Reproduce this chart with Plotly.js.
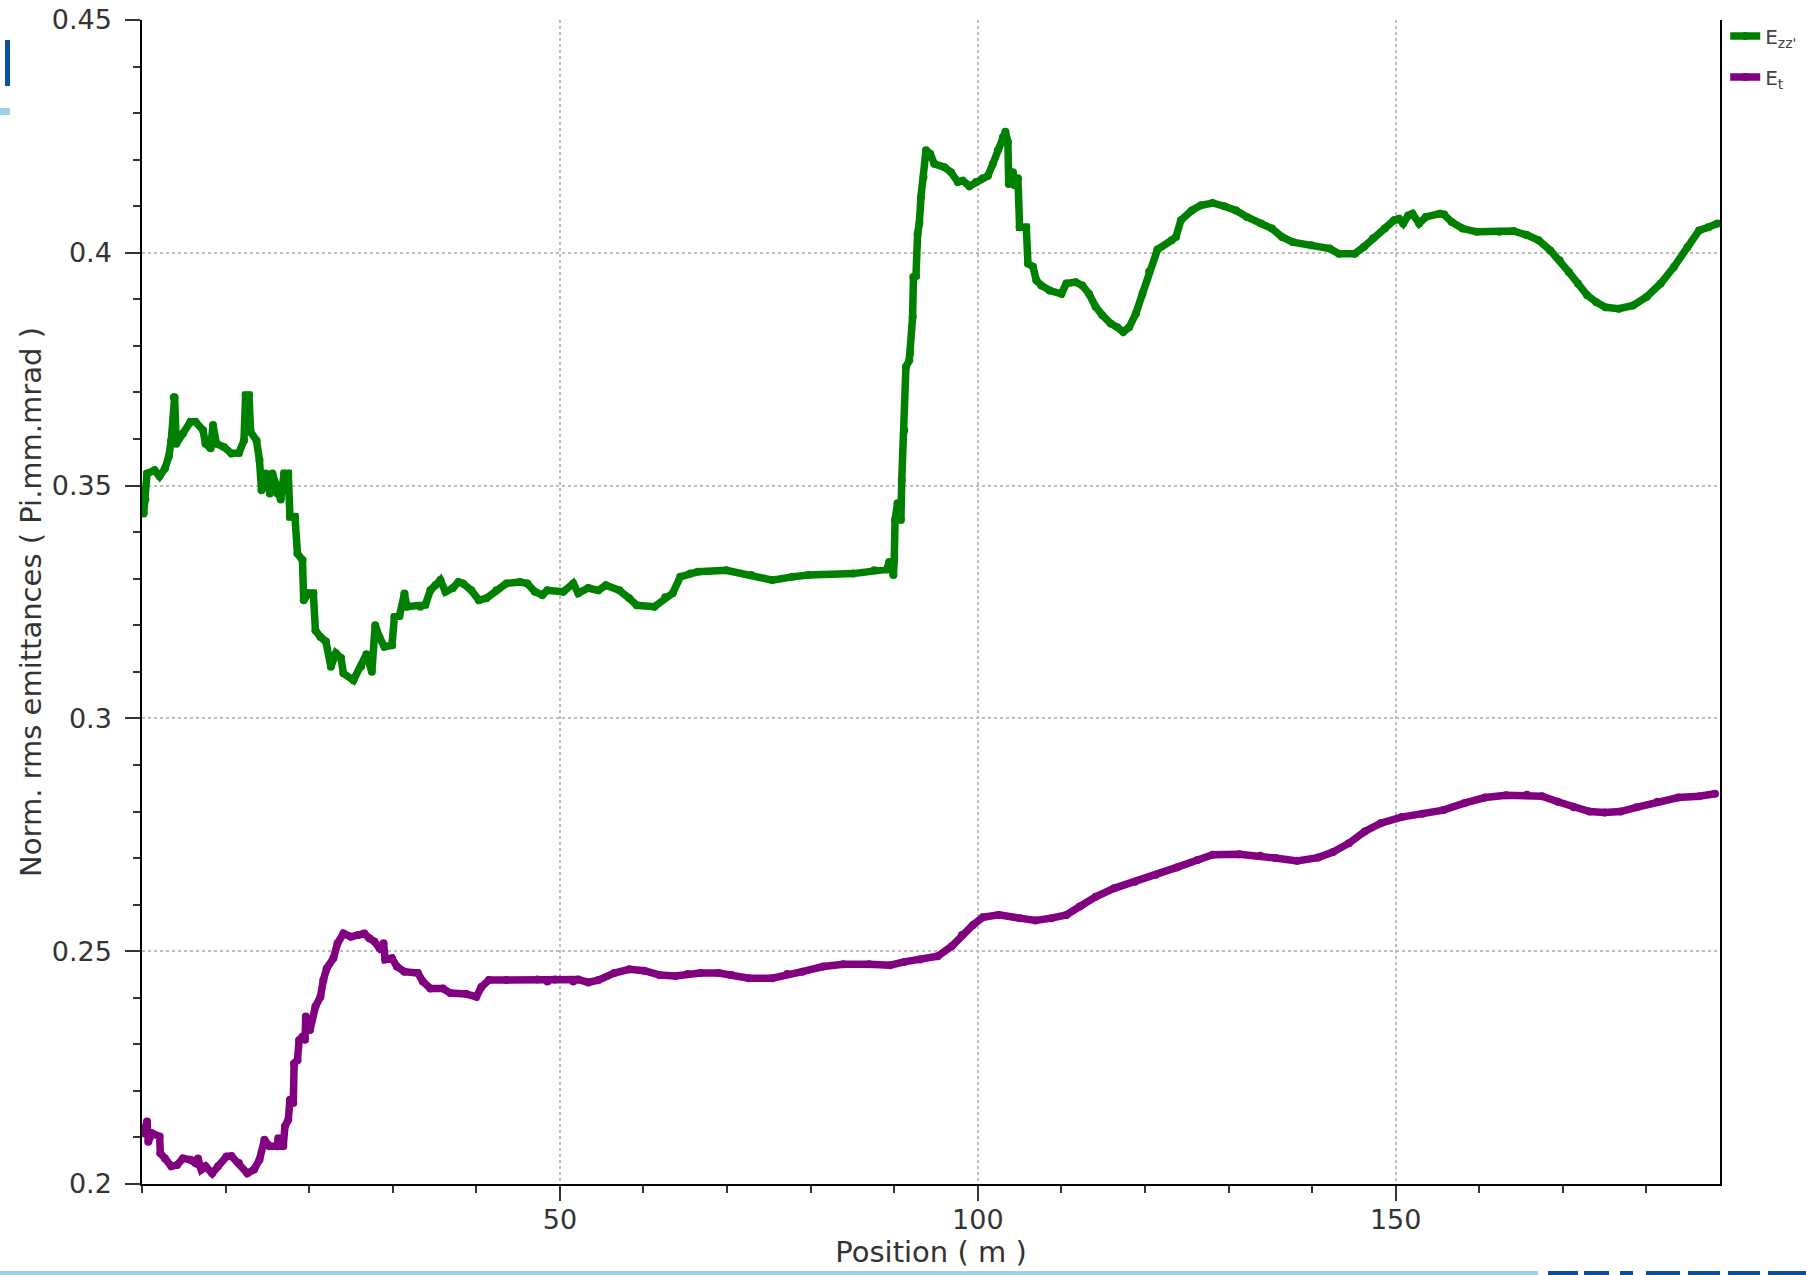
<!DOCTYPE html>
<html>
<head>
<meta charset="utf-8">
<script src="https://cdn.plot.ly/plotly-3.0.1.min.js"></script>
<style>html,body{margin:0;padding:0;background:#fff;}#chart{width:1806px;height:1275px;}</style>
</head>
<body>
<div id="chart"></div>
<script>
// Position (m) and emittance values
var ezzX = [0.2,0.4,0.6,1.5,2.1,2.75,3.2,3.5,3.8,3.9,4.1,4.9,5.8,6.4,7.3,7.6,8.2,8.5,8.9,9.8,10.7,11.6,12.2,12.4,12.8,13.0,13.7,14.05,14.3,14.8,15.3,15.6,16.2,16.6,17.0,17.5,17.7,18.3,18.6,19.2,19.35,19.95,20.5,20.75,21.35,22.0,22.6,23.2,23.8,24.1,25.3,26.2,26.85,27.5,27.9,28.4,29.0,29.9,30.2,30.8,31.4,31.7,33.3,33.9,34.5,35.1,35.7,36.3,37.2,37.85,38.4,39.4,40.3,41.2,42.4,43.6,45.2,46.1,47.0,47.9,48.5,50.4,51.6,52.2,53.4,54.6,55.5,57.1,58.3,59.2,61.3,62.6,63.5,64.4,65.6,66.5,69.9,72.9,75.4,77.8,79.7,85.1,87.6,89.1,89.4,89.9,90.0,90.1,90.4,90.8,90.9,91.2,91.4,91.8,91.9,92.2,92.3,92.6,92.8,93.0,93.2,93.5,93.8,94.3,94.8,96.0,96.8,97.6,98.2,99.0,99.8,100.6,101.2,101.8,102.4,103.0,103.3,103.6,103.7,104.2,104.4,104.8,105.0,105.8,106.0,106.6,107.0,107.6,108.6,110.0,110.6,111.7,112.5,113.3,114.1,114.9,115.9,116.7,117.4,118.1,118.9,119.7,120.5,121.5,123.2,123.7,124.3,125.6,126.7,128.1,129.5,130.9,132.2,133.9,135.2,136.4,137.7,139.9,142.1,143.2,145.1,146.2,147.3,148.7,149.8,150.4,150.9,151.5,152.0,152.8,153.6,155.3,155.8,156.7,158.0,159.7,162.4,164.1,165.7,167.1,168.5,169.6,170.7,171.8,172.9,174.0,175.1,176.7,178.4,180.0,181.7,183.3,184.9,186.3,187.4,188.5];
var ezzY = [0.344,0.347,0.3526,0.3533,0.352,0.3537,0.3562,0.3597,0.369,0.369,0.359,0.3612,0.3637,0.3637,0.3619,0.359,0.358,0.363,0.359,0.3583,0.3569,0.357,0.3597,0.3694,0.3694,0.3615,0.3597,0.3555,0.349,0.3526,0.3483,0.3526,0.3483,0.347,0.3526,0.3526,0.3433,0.3433,0.3354,0.334,0.3254,0.3269,0.3269,0.3189,0.3175,0.3165,0.3111,0.314,0.313,0.3097,0.3082,0.3111,0.3138,0.310,0.32,0.3175,0.3154,0.3157,0.3218,0.322,0.3268,0.324,0.324,0.3244,0.3275,0.3286,0.3297,0.3272,0.328,0.3293,0.329,0.3275,0.3254,0.3258,0.3275,0.329,0.3293,0.329,0.3272,0.3265,0.3275,0.3272,0.329,0.3269,0.328,0.3275,0.3286,0.3275,0.3258,0.3243,0.324,0.326,0.3269,0.3304,0.3311,0.3315,0.3318,0.3308,0.3297,0.3304,0.3308,0.3311,0.3318,0.332,0.3336,0.3308,0.334,0.3426,0.3462,0.3426,0.3512,0.3619,0.3755,0.3769,0.3784,0.3862,0.3948,0.395,0.4041,0.4063,0.412,0.4163,0.422,0.4213,0.4191,0.4184,0.4173,0.4152,0.4155,0.4143,0.4152,0.416,0.4165,0.4191,0.422,0.4248,0.426,0.4238,0.4148,0.4173,0.4145,0.416,0.4055,0.4055,0.3977,0.397,0.3941,0.393,0.3919,0.3912,0.3934,0.3937,0.393,0.3912,0.3884,0.3866,0.3848,0.384,0.383,0.384,0.3869,0.3912,0.396,0.4007,0.4027,0.4034,0.407,0.4091,0.4102,0.4107,0.41,0.4091,0.4077,0.4063,0.4052,0.4034,0.4023,0.4016,0.4009,0.3998,0.3998,0.4013,0.4031,0.4052,0.407,0.4073,0.4063,0.408,0.4084,0.4063,0.4077,0.4084,0.4082,0.4066,0.4052,0.4045,0.4045,0.4047,0.4038,0.4027,0.4005,0.3984,0.3959,0.3934,0.3909,0.3894,0.3883,0.388,0.3887,0.3905,0.3934,0.397,0.4012,0.4048,0.4055,0.4063];

var etX = [0.2,0.6,0.75,1.2,2.1,2.2,2.75,3.5,4.2,4.9,5.8,6.4,6.7,7.1,7.6,8.4,9.1,10.1,10.7,11.6,12.6,13.4,14.05,14.65,15.25,16.2,16.3,16.9,17.1,17.5,17.7,18.1,18.2,18.6,18.8,19.2,19.5,19.6,20.1,20.75,21.35,21.7,22.1,22.9,23.4,24.1,25.0,25.9,26.6,27.2,27.8,28.4,28.9,29.1,29.9,30.5,31.4,33.0,33.6,34.5,36.0,36.9,38.8,40.0,40.6,41.5,43.6,47.3,48.5,49.4,51.6,52.2,53.4,54.6,56.5,58.3,60.1,61.9,63.8,65.3,66.8,69.0,70.5,72.6,75.4,77.2,79.0,81.5,83.9,87.0,89.5,91.2,93.1,95.2,96.9,98.1,99.4,100.6,102.5,105.0,106.9,108.8,110.6,112.2,114.1,116.3,118.8,121.3,123.8,126.3,128.1,131.3,133.8,135.6,138.2,140.7,142.5,144.4,146.3,148.2,150.7,153.2,155.7,158.2,160.7,163.2,165.7,167.5,169.4,171.3,173.2,175.0,176.9,178.8,181.3,183.8,186.3,188.2];
var etY = [0.2109,0.2134,0.2091,0.2109,0.2102,0.2066,0.2055,0.2038,0.2041,0.2055,0.2052,0.2045,0.2055,0.2031,0.2038,0.2023,0.2038,0.2059,0.206,0.2045,0.2023,0.2031,0.2052,0.2095,0.2081,0.2081,0.2098,0.2081,0.2124,0.2138,0.2181,0.2174,0.2259,0.2266,0.2309,0.2316,0.231,0.236,0.2331,0.2381,0.2402,0.2438,0.2463,0.2485,0.2517,0.2538,0.2531,0.2535,0.2538,0.2528,0.2521,0.2507,0.2517,0.2482,0.2485,0.2467,0.2456,0.2453,0.2435,0.242,0.242,0.241,0.2408,0.2402,0.2423,0.2438,0.2438,0.2439,0.2435,0.2439,0.2435,0.2439,0.2433,0.2438,0.2453,0.2461,0.2458,0.2449,0.2447,0.2451,0.2453,0.2453,0.2449,0.2442,0.2442,0.2451,0.2456,0.2467,0.2472,0.2472,0.247,0.2477,0.2482,0.2489,0.2511,0.2535,0.2556,0.2573,0.2578,0.2571,0.2566,0.2571,0.2578,0.2596,0.2617,0.2635,0.2649,0.2664,0.268,0.2696,0.2707,0.2708,0.2705,0.27,0.2694,0.2701,0.2713,0.2732,0.2757,0.2775,0.2788,0.2795,0.2803,0.2818,0.283,0.2835,0.2836,0.2833,0.2821,0.2809,0.28,0.2798,0.28,0.2809,0.2821,0.283,0.2833,0.2838];

var seriesNames = ["E<sub>zz'</sub>", "E<sub>t</sub>"];
var xTickVals = [50, 100, 150];
var yTickVals = [0.2, 0.25, 0.3, 0.35, 0.4, 0.45];
var yTickText = ["0.2", "0.25", "0.3", "0.35", "0.4", "0.45"];

var W = 1806, H = 1275;
var M = {l: 142, r: 86, t: 20, b: 91, autoexpand: false};
function px(x) { return (x - M.l) / (W - M.l - M.r); }
function py(y) { return (H - M.b - y) / (H - M.t - M.b); }
function rect(x0, y0, x1, y1, color) {
  return {type: 'rect', xref: 'paper', yref: 'paper', x0: px(x0), x1: px(x1), y0: py(y1), y1: py(y0),
          fillcolor: color, line: {width: 0}, layer: 'above'};
}
var darkBlue = '#0b4f9c', lightBlue = '#9dd3e8';
var shapes = [
  rect(5, 40, 10, 86, darkBlue),
  rect(0, 108, 10, 115, lightBlue),
  rect(0, 1271, 1538, 1275, lightBlue),
  rect(1548, 1271, 1578, 1275, darkBlue),
  rect(1584, 1271, 1609, 1275, darkBlue),
  rect(1620, 1271, 1633, 1275, darkBlue),
  rect(1646, 1271, 1680, 1275, darkBlue),
  rect(1688, 1271, 1720, 1275, darkBlue),
  rect(1728, 1271, 1760, 1275, darkBlue),
  rect(1768, 1271, 1806, 1275, darkBlue)
];

var font = 'DejaVu Sans, sans-serif';
var traces = [
  {x: ezzX, y: ezzY, name: seriesNames[0], legendgroup: 'a', type: 'scatter', mode: 'lines+markers',
   line: {color: '#008000', width: 7.5}, marker: {color: '#008000', size: 8}},
  {x: etX, y: etY, name: seriesNames[1], legendgroup: 'b', type: 'scatter', mode: 'lines+markers',
   line: {color: '#800080', width: 7.5}, marker: {color: '#800080', size: 8}}
];

var axisCommon = {
  showline: true, linecolor: '#000', linewidth: 1.5,
  ticks: 'outside', ticklen: 15, tickwidth: 1.5, tickcolor: '#333',
  showgrid: true, gridcolor: '#bdbdbd', griddash: 'dot', gridwidth: 1.5,
  zeroline: false,
  tickfont: {family: font, size: 27, color: '#333'}
};

var layout = {
  width: W, height: H,
  margin: M,
  paper_bgcolor: '#fff', plot_bgcolor: '#fff',
  showlegend: true,
  legend: {x: 1.0033, xanchor: 'left', y: 1.003, yanchor: 'top', font: {family: font, size: 20, color: '#444'},
           bgcolor: 'rgba(0,0,0,0)', tracegroupgap: 12, traceorder: 'grouped'},
  xaxis: Object.assign({}, axisCommon, {
    range: [0, 188.8], tickmode: 'array', tickvals: xTickVals, mirror: false,
    ticklabelstandoff: -4,
    minor: {tickmode: 'linear', tick0: 0, dtick: 10, ticks: 'outside', ticklen: 7, tickwidth: 1.5, tickcolor: '#333', showgrid: false},
    title: {text: 'Position ( m )', font: {family: font, size: 29, color: '#333'}, standoff: 8}
  }),
  yaxis: Object.assign({}, axisCommon, {
    range: [0.2, 0.45], tickmode: 'array', tickvals: yTickVals, ticktext: yTickText, mirror: true,
    ticklabelstandoff: 8,
    minor: {tickmode: 'linear', tick0: 0.2, dtick: 0.01, ticks: 'outside', ticklen: 7, tickwidth: 1.5, tickcolor: '#333', showgrid: false},
    title: {text: 'Norm. rms emittances ( Pi.mm.mrad )', font: {family: font, size: 29, color: '#333'}, standoff: 2}
  }),
  shapes: shapes
};

Plotly.newPlot('chart', traces, layout, {displayModeBar: false, responsive: false});
</script>
</body>
</html>
